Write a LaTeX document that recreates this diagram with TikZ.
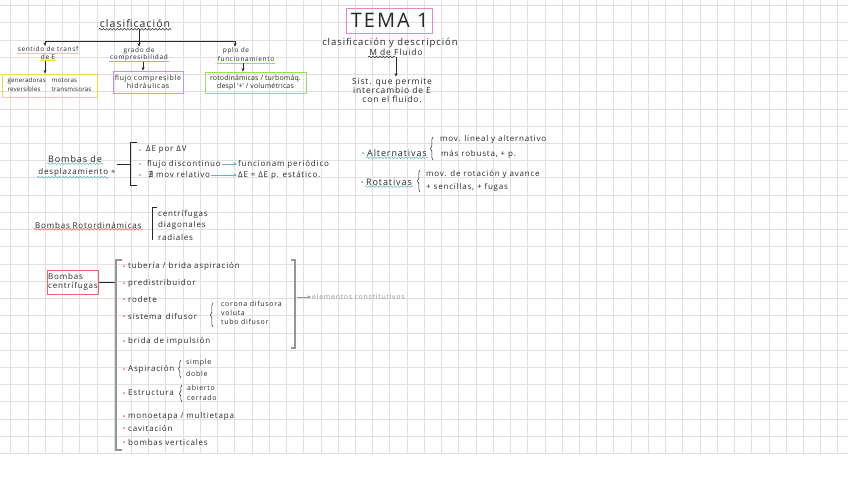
\documentclass[tikz,border=0pt]{standalone}
\usepackage{fontspec}
\setmainfont{Open Sans}[LetterSpace=10]
\newfontfamily\symfont{DejaVu Sans}
\usetikzlibrary{arrows.meta,decorations.pathmorphing,decorations.pathreplacing}

\definecolor{ink}{RGB}{40,40,40}
\definecolor{gridgray}{RGB}{224,224,224}
\definecolor{hlyellow}{RGB}{238,218,60}
\definecolor{hlpurple}{RGB}{190,150,240}
\definecolor{hlgreen}{RGB}{150,225,90}
\definecolor{hlpink}{RGB}{238,130,200}
\definecolor{hlteal}{RGB}{100,180,190}
\definecolor{hlred}{RGB}{240,100,100}
\definecolor{softgray}{RGB}{150,150,150}

\begin{document}
\begin{tikzpicture}[x=1pt,y=-1pt,>={Stealth[length=3.5pt,width=3pt]},
    note/.style={font=\fontsize{8}{9}\selectfont, text=ink, inner sep=1pt},
    small/.style={font=\fontsize{7}{8}\selectfont, text=ink, inner sep=1pt},
    label/.style={font=\fontsize{6.5}{7.5}\selectfont, text=ink, inner sep=1pt},
    bignote/.style={font=\fontsize{9}{10}\selectfont, text=ink, inner sep=1pt},
    wavy/.style={decorate, decoration={snake, amplitude=0.9pt, segment length=3.5pt}, line width=0.5pt},
    hlbox/.style={draw=#1, line width=0.9pt, inner sep=1pt, align=center},
    curly/.style={decorate, decoration={brace, amplitude=2.5pt}, ink, line width=0.5pt},
    dot/.style={circle, fill=#1, inner sep=0pt, minimum size=2pt},
  ]

    \useasboundingbox (0,0) rectangle (848,485);
    \fill[white] (0,0) rectangle (848,485);

    \foreach \i in {0,...,48}{
        \draw[gridgray, line width=0.6pt] (10.7+17.23*\i,0) -- (10.7+17.23*\i,453.5);
    }
    \foreach \j in {0,...,26}{
        \draw[gridgray, line width=0.6pt] (0,5.47+17.23*\j) -- (848,5.47+17.23*\j);
    }

    % clasificacion
    \node[font=\fontsize{10.5}{12}\selectfont, text=ink, inner sep=1pt]
        (clasif) at (135,24) {clasificación};
    \draw[wavy, ink] (clasif.south west) -- (clasif.south east);

    \coordinate (hub) at (139,41);
    \coordinate (hubL) at (45,41);
    \coordinate (hubR) at (235,41);
    \draw[ink, line width=0.6pt] (hub |- clasif.south) -- (hub);
    \draw[ink, line width=0.6pt] (hubL) -- (hubR);

    \node[label] (sent1) at (48,49.5) {sentido de transf};
    \node[label] (sent2) at (48,57) {de E};
    \draw[hlyellow, line width=1pt] (sent1.south west) -- (sent1.south east);
    \draw[hlyellow, line width=1pt] (sent2.south west) -- (sent2.south east);
    \draw[->, ink] (hubL) -- (hubL |- sent1.north);

    \node[hlbox=hlyellow, minimum width=95pt, minimum height=23pt, text=ink,
        font=\fontsize{6.2}{8.5}\selectfont\addfontfeature{LetterSpace=3}] (genbox) at (49.5,85.5)
        {\begin{tabular}{@{}l@{\hspace{6pt}}l@{}}generadoras & motoras\\ reversibles & transmisoras\end{tabular}};
    \draw[->, ink] (sent2.south -| hubL) -- (genbox.north -| hubL);

    \node[label] (grad1) at (139,51) {grado de};
    \node[label] (grad2) at (139,57.5) {compresibilidad};
    \draw[hlpurple, line width=1pt] (grad2.south west) -- (grad2.south east);
    \draw[->, ink] (hub) -- (hub |- grad1.north);

    \node[small, hlbox=hlpurple, minimum width=70pt, minimum height=22pt]
        (compbox) at (148,82) {flujo compresible\\hidráulicas};
    \draw[->, ink] ([xshift=4pt]grad2.south) -- ([xshift=4pt]grad2.south |- compbox.north);

    \node[label] (pplo1) at (236,51) {pplo de};
    \node[label] (pplo2) at (246,59.5) {funcionamiento};
    \draw[hlgreen, line width=1pt] (pplo2.south west) -- (pplo2.south east);
    \draw[->, ink] (hubR) -- (hubR |- pplo1.north);

    \node[hlbox=hlgreen, minimum width=101pt, minimum height=21pt, text=ink,
        font=\fontsize{7}{8.5}\selectfont\addfontfeature{LetterSpace=2}]
        (funcbox) at (255.5,82.5) {rotodinámicas / turbomáq.\\despl `+' / volumétricas};
    \draw[->, ink] ([xshift=-3pt]pplo2.south) -- ([xshift=-3pt]pplo2.south |- funcbox.north);

    % tema 1
    \node[draw=hlpink, line width=0.9pt, minimum width=86pt, minimum height=25pt,
        inner sep=0pt, font=\fontsize{20}{22}\selectfont, text=ink]
        (tema) at (389.7,20.8) {TEMA 1};
    \node[bignote, font=\fontsize{9.5}{10}\selectfont] (desc) at (390,43) {clasificación y descripción};
    \node[bignote, font=\fontsize{8.5}{10}\selectfont] (mfluido) at (396,52.5) {M de Fluido};
    \draw[wavy, ink] (mfluido.south west) -- ([xshift=27pt]mfluido.south west);
    \node[note, align=center, font=\fontsize{8.5}{9}\selectfont]
        (sist) at (392,90) {Sist. que permite\\intercambio de E\\con el fluido.};
    \draw[->, ink] (mfluido.south) -- (mfluido.south |- sist.north);

    % desplazamiento
    \node[bignote] (bd1) at (75,159) {Bombas de};
    \node[bignote, font=\fontsize{8}{10}\selectfont] (bd2) at (77,172) {desplazamiento +};
    \draw[wavy, hlteal] (bd1.south west) -- (bd1.south east);
    \draw[wavy, hlteal] (bd2.south west) -- ([xshift=-8pt]bd2.south east);

    \coordinate (brk1) at (130,164);
    \draw[ink, line width=0.6pt] (bd2.east |- brk1) -- (brk1);
    \draw[ink, line width=0.8pt] (137,142) -- (130,142) -- (130,185) -- (137,185);

    \node[dot=hlteal] (dA0) at (140,150) {};
    \node[note, anchor=west] (dA) at (145,150) {ΔE por ΔV};
    \node[dot=hlteal] (flujo0) at (140,164) {};
    \node[note, anchor=west] (flujo) at (146,164) {flujo discontinuo};
    \node[note, anchor=west] (funcper) at (237,164) {funcionam periódico};
    \draw[->, hlteal, line width=0.8pt] (flujo) -- (funcper);
    \node[dot=hlteal] (movrel0) at (140,175) {};
    \node[note, anchor=west] (movrel) at (147,175) {{\symfont ∄} mov relativo};
    \node[note, anchor=west] (dEest) at (237,175) {ΔE = ΔE p. estático.};
    \draw[->, hlteal, line width=0.8pt] (movrel) -- (dEest);

    % rotordinamicas
    \node[bignote, font=\fontsize{8}{10}\selectfont, anchor=west] (brot) at (34,225) {Bombas Rotordinámicas};
    \draw[wavy, hlred] (brot.south west) -- (brot.south east);
    \draw[ink, line width=0.5pt] (157,207) -- (152,207) -- (152,240);
    \node[note, anchor=west] (centr) at (157,214) {centrífugas};
    \node[note, anchor=west] (diag) at (157,225) {diagonales};
    \node[note, anchor=west] (radi) at (157,237) {radiales};

    % alternativas / rotativas
    \node[dot=hlteal] (alt0) at (363,153) {};
    \node[bignote, anchor=west] (alt) at (366,153) {Alternativas};
    \draw[wavy, hlteal] (alt.south west) -- (alt.south east);
    \draw[curly] (433,160) -- (433,137);
    \node[note, anchor=west] (alt1) at (439,139) {mov. lineal y alternativo};
    \node[note, anchor=west] (alt2) at (440,154) {más robusta, + p.};

    \node[dot=hlteal] (rot0) at (362,182) {};
    \node[bignote, anchor=west] (rot) at (365,182) {Rotativas};
    \draw[wavy, hlteal] (rot.south west) -- (rot.south east);
    \draw[curly] (420,192) -- (420,170);
    \node[note, anchor=west] (rot1) at (425,174) {mov. de rotación y avance};
    \node[note, anchor=west] (rot2) at (425,187) {+ sencillas, + fugas};

    % centrifugas
    \node[note, draw=hlred, line width=0.7pt, align=left, minimum width=50pt,
        minimum height=24pt] (bcent) at (73,282) {Bombas\\centrífugas};
    \coordinate (brk2) at (116,282);
    \draw[ink, line width=0.6pt] (bcent.east |- brk2) -- (brk2);
    \draw[softgray, line width=1.2pt] (122,260) -- (116,260) -- (116,450) -- (122,450);
    \draw[softgray, line width=1.2pt] (291,260) -- (295,260) -- (295,348) -- (291,348);

    \foreach \y/\name/\t in {266/tub/{tubería / brida aspiración}, 283/pre/predistribuidor,
        299/rod/rodete, 316/sist/{sistema\enspace difusor}, 341/brida/brida de impulsión,
        369/asp/Aspiración, 393/est/Estructura, 416/mono/{monoetapa / multietapa},
        428/cav/cavitación, 442/vert/bombas verticales}{
        \node[dot=hlred] (dot-\name) at (124,\y) {};
        \node[note, anchor=west] (item-\name) at (127,\y) {\t};
    }

    \coordinate (brk3) at (297,297);
    \node[small, text=softgray, anchor=west] (elem) at (311,297) {elementos constitutivos};
    \draw[->, softgray, line width=0.7pt] (brk3) -- (elem);

    \draw[curly] (213,327) -- (213,303);
    \node[small, anchor=west] (coro) at (220,304) {corona difusora};
    \node[small, anchor=west] (volu) at (220,313) {voluta};
    \node[small, anchor=west] (tubo) at (220,322) {tubo difusor};

    \draw[curly] (181,378) -- (181,360);
    \node[small, anchor=west] (simp) at (185,363) {simple};
    \node[small, anchor=west] (dobl) at (185,374) {doble};

    \draw[curly] (182,402) -- (182,385);
    \node[small, anchor=west] (abie) at (186,388) {abierto};
    \node[small, anchor=west] (cerr) at (186,398) {cerrado};

\end{tikzpicture}
\end{document}
